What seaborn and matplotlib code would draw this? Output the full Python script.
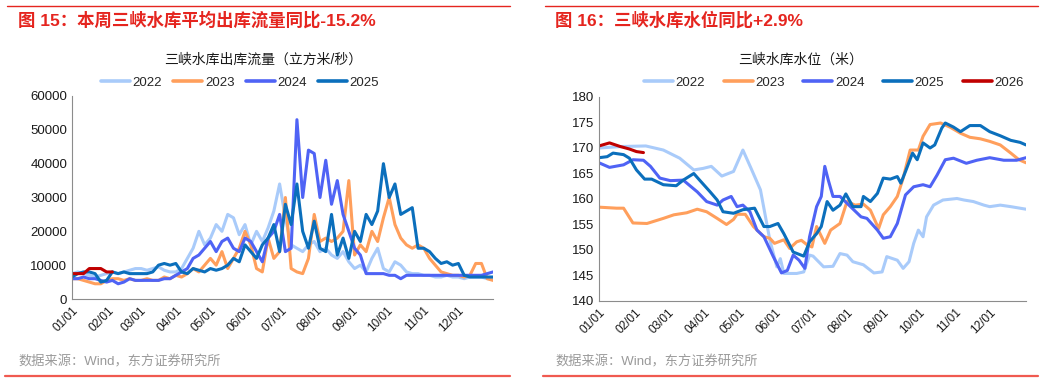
import numpy as np
import pandas as pd
import matplotlib
matplotlib.use("Agg")
import matplotlib.pyplot as plt
import seaborn as sns

# day-of-year grid for the outflow series (every 5 days)
flow_days = list(range(0, 366, 5))

# 三峡水库出库流量 (立方米/秒)
flow_2022 = [7500, 8000, 7500, 7000, 6500, 7000, 7500, 8000, 7500, 8000,
             8500, 9000, 9000, 8500, 9000, 9500, 8500, 8000, 8000, 9000,
             12000, 15000, 20000, 16000, 18000, 22000, 20000, 25000, 24000, 19000,
             22000, 16000, 20000, 17000, 21000, 26000, 34000, 24000, 16000, 15000,
             14000, 16000, 17000, 14000, 15000, 13000, 12000, 14000, 11000, 9000,
             10000, 8000, 12000, 15000, 9000, 8000, 11000, 10000, 8000, 7500,
             7500, 7000, 7000, 6500, 6500, 7000, 6500, 6500, 6000, 6500,
             6500, 6500, 6000, 6000]
flow_2023 = [6000, 6000, 5500, 5000, 4500, 4500, 5500, 6000, 6000, 5500,
             6000, 5500, 5500, 6000, 5500, 5500, 6500, 6000, 7000, 6500,
             7500, 9000, 8000, 10000, 12000, 10000, 14000, 9000, 12000, 15000,
             20000, 16000, 9000, 8000, 18000, 12000, 14000, 30000, 9000, 8000,
             7500, 12000, 25000, 17000, 18000, 17000, 18000, 20000, 35000, 13000,
             16000, 14000, 20000, 17000, 24000, 30000, 22000, 18000, 16000, 15000,
             16000, 15000, 12000, 10000, 8000, 7500, 7000, 7000, 6500, 7000,
             10500, 10500, 6000, 5500]
flow_2024 = [6000, 6000, 6500, 6000, 6000, 5500, 5000, 5500, 4500, 5000,
             6000, 5500, 5500, 5500, 5500, 5500, 6000, 6000, 7000, 8000,
             9000, 12000, 13000, 15000, 17000, 14000, 17000, 18000, 15000, 14000,
             18000, 17000, 14000, 11000, 18000, 20000, 25000, 14000, 15000, 53000,
             30000, 44000, 43000, 30000, 41000, 28000, 35000, 25000, 20000, 15000,
             13000, 7500, 7500, 7500, 7500, 7000, 7000, 6000, 7000, 7000,
             7000, 7000, 7000, 7000, 7000, 7000, 7000, 7000, 7000, 7000,
             7000, 7000, 7500, 8000]
flow_2025 = [6500, 7500, 8000, 8000, 7500, 5000, 5500, 8000, 7500, 8000,
             7500, 7500, 7500, 7500, 8000, 10000, 10500, 10000, 10500, 8000,
             7500, 9000, 8500, 8000, 9000, 8500, 9000, 10000, 12000, 11000,
             16000, 14000, 12000, 16000, 18000, 22000, 14000, 28000, 22000, 34000,
             20000, 15000, 23000, 15000, 14000, 25000, 13000, 18000, 12000, 20000,
             17000, 25000, 22000, 26000, 40000, 30000, 34000, 25000, 26000, 27000,
             15000, 15000, 14000, 12000, 10500, 11000, 10000, 10500, 7000, 6500,
             6500, 6500, 6500, 6500]
flow_2026 = [7500, 7500, 7500, 9000, 9000, 9000, 8000, 8000]

# 三峡水库水位 (米)
lv22_d = [0, 20, 40, 55, 69, 81, 89, 96, 105, 115, 123, 130, 138, 146, 152, 155, 158, 169, 175, 180,
          183, 192, 200, 206, 212, 217, 226, 235, 242, 246, 255, 260, 265, 269, 273, 277, 280, 286, 294, 306,
          312, 320, 329, 334, 343, 352, 365]
lv22_v = [170.0, 170.3, 170.4, 169.6, 168.0, 165.7, 166.0, 166.4, 164.5, 165.4,
          169.6, 166.0, 161.8, 152.0, 146.7, 148.3, 145.4, 145.4, 145.7, 149.0,
          148.8, 146.7, 146.8, 149.3, 149.0, 147.7, 147.1, 145.5, 145.7, 148.7,
          148.0, 146.4, 147.7, 151.3, 153.9, 152.6, 156.5, 158.8, 159.8, 160.1,
          159.8, 159.5, 158.8, 158.5, 158.8, 158.5, 158.0]
lv23_d = [0, 15, 21, 29, 41, 55, 64, 75, 84, 92, 101, 109, 115, 118, 125, 132, 141, 146, 150, 158,
          163, 169, 173, 178, 182, 186, 193, 198, 206, 212, 219, 226, 232, 239, 243, 249, 255, 260, 266, 273,
          277, 283, 292, 300, 309, 317, 326, 334, 343, 352, 359, 365]
lv23_v = [158.4, 158.2, 158.2, 155.3, 155.2, 156.2, 156.9, 157.3, 158.0, 157.5,
          156.2, 155.0, 156.0, 157.0, 157.0, 154.6, 152.6, 152.3, 151.3, 152.0,
          150.3, 151.6, 151.9, 151.0, 150.6, 154.6, 151.3, 153.9, 155.2, 159.5,
          158.8, 159.0, 157.8, 154.2, 156.9, 158.5, 160.5, 164.1, 169.6, 169.6,
          172.3, 174.6, 174.9, 174.1, 172.9, 172.1, 171.8, 171.3, 170.6, 169.0,
          167.7, 167.1]
lv24_d = [0, 9, 21, 29, 38, 44, 52, 61, 72, 84, 92, 101, 106, 113, 118, 123, 129, 135, 141, 149,
          156, 161, 166, 171, 176, 180, 186, 190, 193, 196, 200, 206, 215, 224, 229, 238, 243, 249, 255, 262,
          269, 277, 283, 289, 296, 303, 314, 323, 334, 346, 357, 365]
lv24_v = [167.1, 166.2, 166.7, 167.7, 167.6, 166.4, 164.1, 163.6, 163.7, 161.4,
          159.5, 158.8, 159.8, 160.5, 158.5, 158.8, 157.5, 153.9, 152.6, 148.7,
          145.5, 146.0, 149.0, 148.0, 146.4, 152.6, 158.5, 160.5, 166.4, 163.7,
          160.5, 160.5, 158.5, 156.5, 156.2, 153.9, 152.3, 152.6, 155.2, 160.8,
          162.4, 162.8, 162.4, 164.7, 167.7, 168.0, 167.0, 167.6, 168.1, 167.6,
          167.6, 168.1]
lv25_d = [0, 7, 12, 21, 26, 32, 39, 45, 55, 66, 72, 81, 86, 95, 101, 106, 115, 123, 133, 141,
          146, 153, 158, 166, 175, 180, 186, 190, 195, 200, 206, 211, 217, 224, 226, 232, 238, 243, 249, 255,
          258, 262, 268, 272, 277, 283, 287, 293, 296, 303, 309, 317, 326, 334, 343, 352, 360, 365]
lv25_v = [168.1, 168.3, 169.0, 168.7, 168.0, 165.7, 163.9, 163.9, 162.8, 162.6,
          163.7, 165.0, 163.7, 161.4, 159.8, 157.5, 157.2, 157.9, 158.2, 154.6,
          154.6, 155.2, 153.2, 149.6, 148.8, 151.6, 153.2, 154.6, 159.5, 157.8,
          158.8, 161.0, 158.5, 158.5, 160.5, 159.5, 161.1, 164.1, 163.9, 164.4,
          163.1, 165.4, 169.0, 167.7, 171.0, 170.0, 170.6, 173.9, 174.9, 174.1,
          173.2, 174.4, 174.4, 173.2, 172.4, 171.5, 171.1, 170.6]
lv26_d = [0, 9, 18, 26, 32, 38]
lv26_v = [170.4, 171.0, 170.3, 169.8, 169.3, 169.1]

years = ["2022", "2023", "2024", "2025", "2026"]
colors = ["#a9cbfa", "#ff9f5c", "#4f63f5", "#0b6fbc", "#c00000"]
month_ticks = [0, 31, 59, 90, 120, 151, 181, 212, 243, 273, 304, 334, 365]
month_labels = ["01/01", "02/01", "03/01", "04/01", "05/01", "06/01", "07/01",
                "08/01", "09/01", "10/01", "11/01", "12/01", ""]

flow_df = pd.concat([
    pd.DataFrame({"day": flow_days[:len(v)], "value": v, "year": y})
    for y, v in zip(years, [flow_2022, flow_2023, flow_2024, flow_2025, flow_2026])
])
level_df = pd.concat([
    pd.DataFrame({"day": d, "value": v, "year": y})
    for y, d, v in zip(years, [lv22_d, lv23_d, lv24_d, lv25_d, lv26_d],
                       [lv22_v, lv23_v, lv24_v, lv25_v, lv26_v])
])

sns.set_style("white")
plt.rcParams["font.family"] = ["Liberation Sans", "Noto Sans CJK SC", "DejaVu Sans"]
palette = dict(zip(years, colors))

fig = plt.figure(figsize=(10.61, 3.82), dpi=100)
ax1 = fig.add_axes([72 / 1061, 1 - 299 / 382, 421 / 1061, 203 / 382])
ax2 = fig.add_axes([599 / 1061, 1 - 301 / 382, 427 / 1061, 204 / 382])

sns.lineplot(data=flow_df, x="day", y="value", hue="year", palette=palette,
             linewidth=2.2, ax=ax1, legend=False)
sns.lineplot(data=level_df, x="day", y="value", hue="year", palette=palette,
             linewidth=2.2, ax=ax2, legend=False)

ax1.set_ylim(0, 60000)
ax1.set_yticks(range(0, 60001, 10000))
ax2.set_ylim(140, 180)
ax2.set_yticks(range(140, 181, 5))

for ax in (ax1, ax2):
    ax.set_xlim(0, 365)
    ax.set_xticks(month_ticks)
    ax.set_xticklabels(month_labels, rotation=45, ha="right", rotation_mode="anchor")
    ax.set_xlabel("")
    ax.set_ylabel("")
    for s in ("top", "right"):
        ax.spines[s].set_visible(False)
    for s in ("left", "bottom"):
        ax.spines[s].set_color("#8c8c8c")
        ax.spines[s].set_linewidth(0.8)
    ax.tick_params(axis="both", direction="in", length=3.5, width=0.8, color="#8c8c8c",
                   labelsize=9.5, labelcolor="#1a1a1a")
    ax.tick_params(axis="x", pad=4, labelsize=8.5)

# legends
def handles(n):
    return [plt.Line2D([], [], color=colors[i], lw=2.6) for i in range(n)]

fig.legend(handles(4), years[:4], loc="center", bbox_to_anchor=(240 / 1061, 1 - 83 / 382),
           ncol=4, frameon=False, fontsize=9.5, handlelength=2.2, handletextpad=0.2,
           columnspacing=0.85)
fig.legend(handles(5), years, loc="center", bbox_to_anchor=(834 / 1061, 1 - 83 / 382),
           ncol=5, frameon=False, fontsize=9.5, handlelength=2.2, handletextpad=0.2,
           columnspacing=1.4)

# titles
red = "#e5251f"
fig.text(18 / 1061, 1 - 20 / 382, "图 15：本周三峡水库平均出库流量同比-15.2%", color=red,
         fontsize=12.5, fontweight="bold", va="center", ha="left")
fig.text(555 / 1061, 1 - 20 / 382, "图 16：三峡水库水位同比+2.9%", color=red,
         fontsize=12.5, fontweight="bold", va="center", ha="left")
fig.text(263 / 1061, 1 - 60 / 382, "三峡水库出库流量（立方米/秒）", fontsize=10,
         ha="center", va="center", color="#1a1a1a")
fig.text(801 / 1061, 1 - 60 / 382, "三峡水库水位（米）", fontsize=10,
         ha="center", va="center", color="#1a1a1a")
fig.text(18 / 1061, 1 - 362 / 382, "数据来源：Wind，东方证券研究所", fontsize=9.5,
         ha="left", va="center", color="#9a9a9a")
fig.text(555 / 1061, 1 - 362 / 382, "数据来源：Wind，东方证券研究所", fontsize=9.5,
         ha="left", va="center", color="#9a9a9a")

# red separator rules
for x0, x1 in ((7, 510), (545, 1038)):
    fig.add_artist(plt.Line2D([x0 / 1061, x1 / 1061], [1 - 6 / 382] * 2, color=red, lw=1.0))
for x0, x1 in ((5, 510), (543, 1038)):
    fig.add_artist(plt.Line2D([x0 / 1061, x1 / 1061], [1 - 376 / 382] * 2, color="#f05a50", lw=1.6))

fig.savefig("out.png", dpi=100)
